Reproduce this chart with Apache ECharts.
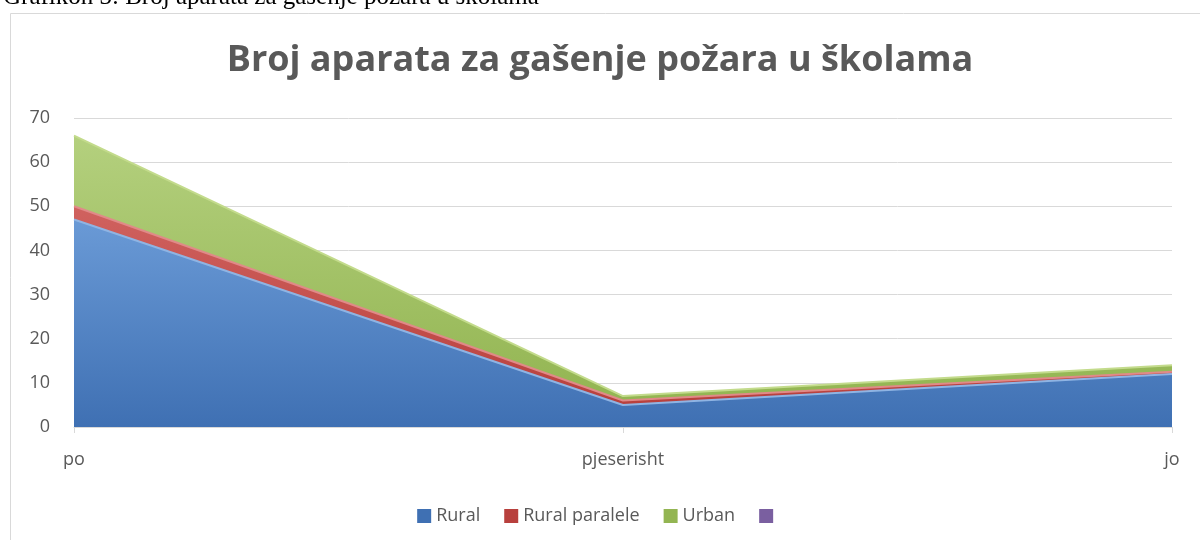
<!DOCTYPE html>
<html>
<head>
<meta charset="utf-8">
<script src="https://cdn.jsdelivr.net/npm/echarts@6/dist/echarts.min.js"></script>
<style>
  html, body { margin: 0; padding: 0; background: #fff; }
  #chart { width: 1200px; height: 540px; }
</style>
</head>
<body>
<div id="chart"></div>
<script>
// kategorije i vrijednosti
const categories = ['po', 'pjeserisht', 'jo']
const rural = [47, 5, 12]
const ruralParalele = [3, 1, 0.5]
const urban = [16, 1, 1.5]
const empty = [null, null, null]
const yTicks = [0, 10, 20, 30, 40, 50, 60, 70]

const grad = (top, bottom) => new echarts.graphic.LinearGradient(0, 0, 0, 1, [
  { offset: 0, color: top },
  { offset: 1, color: bottom }
])

const mkSeries = (name, data, line, top, bottom) => ({
  name: name,
  type: 'line',
  stack: 'total',
  data: data,
  symbol: 'none',
  lineStyle: { width: 2, color: line },
  itemStyle: { color: bottom },
  areaStyle: { color: grad(top, bottom), opacity: 1 }
})

let chart = echarts.init(document.getElementById('chart'))
chart.setOption({
  animation: false,
  graphic: [
    {
      type: 'text',
      left: 3,
      top: -15,
      style: {
        text: 'Grafikon 3: Broj aparata za gašenje požara u školama',
        font: '25px "Liberation Serif"',
        fill: '#000'
      }
    },
    {
      type: 'rect',
      shape: { x: 10.5, y: 13.5, width: 1200, height: 540 },
      style: { fill: 'none', stroke: '#d9d9d9', lineWidth: 1 },
      silent: true
    }
  ],
  title: {
    text: 'Broj aparata za gašenje požara u školama',
    left: 'center',
    top: 38,
    textStyle: {
      fontFamily: 'Open Sans',
      fontSize: 36,
      fontWeight: 'bold',
      color: '#595959'
    }
  },
  legend: {
    bottom: 10,
    left: 'center',
    itemWidth: 14,
    itemHeight: 14,
    itemGap: 24,
    icon: 'rect',
    textStyle: { fontFamily: 'Open Sans', fontSize: 18, color: '#595959' },
    data: ['Rural', 'Rural paralele', 'Urban', ' ']
  },
  grid: { left: 74, right: 28, top: 118, bottom: 113, containLabel: false },
  xAxis: {
    type: 'category',
    boundaryGap: false,
    data: categories,
    axisLine: { lineStyle: { color: '#d9d9d9' } },
    axisTick: { show: true, length: 6, lineStyle: { color: '#d9d9d9' } },
    axisLabel: { fontFamily: 'Open Sans', fontSize: 18, color: '#595959', margin: 24 }
  },
  yAxis: {
    type: 'value',
    min: yTicks[0],
    max: yTicks[yTicks.length - 1],
    interval: 10,
    axisLine: { show: false },
    axisTick: { show: false },
    splitLine: { lineStyle: { color: '#d9d9d9' } },
    axisLabel: { fontFamily: 'Open Sans', fontSize: 18, color: '#595959', margin: 24 }
  },
  series: [
    mkSeries('Rural', rural, '#8fb4e3', '#6a9ad6', '#3f70b3'),
    mkSeries('Rural paralele', ruralParalele, '#e08a88', '#d0625f', '#b8403d'),
    mkSeries('Urban', urban, '#c3db8c', '#b4d07e', '#93b552'),
    {
      name: ' ',
      type: 'line',
      stack: 'total',
      data: empty,
      symbol: 'none',
      itemStyle: { color: '#7a5fa0' }
    }
  ]
})
</script>
</body>
</html>
